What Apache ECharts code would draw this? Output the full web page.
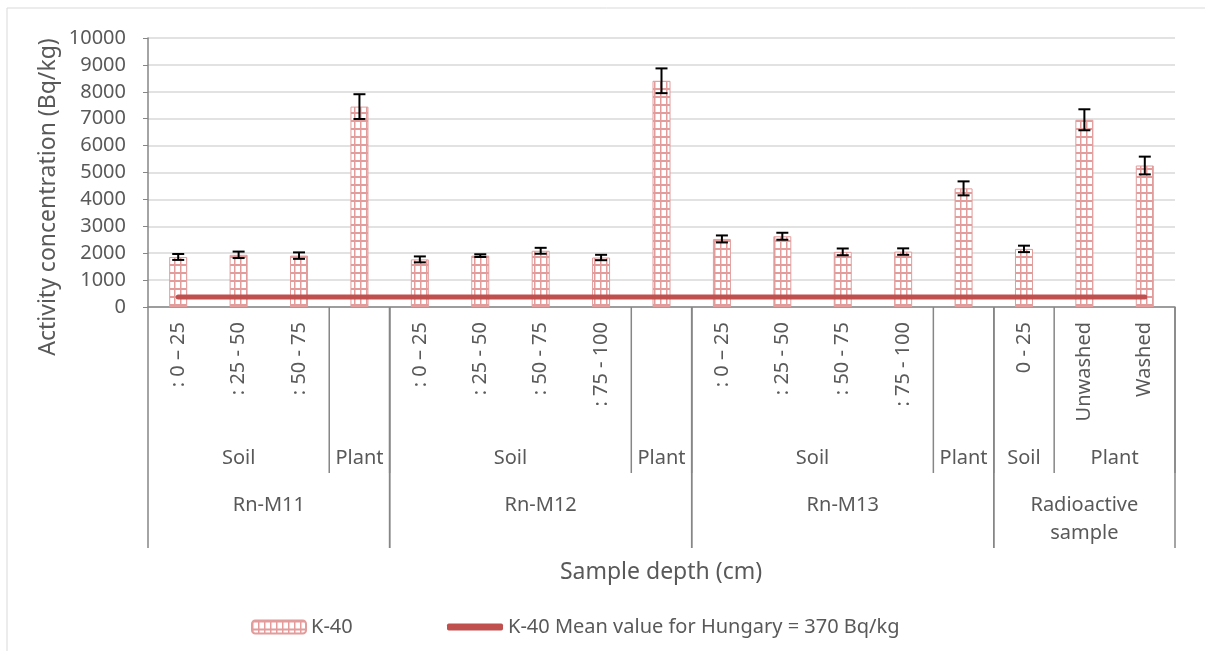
<!DOCTYPE html>
<html>
<head>
<meta charset="utf-8">
<script src="https://cdn.jsdelivr.net/npm/echarts@6/dist/echarts.min.js"></script>
<style>
  html, body { margin: 0; padding: 0; background: #fff; }
  #main { width: 1205px; height: 651px; }
</style>
</head>
<body>
<div id="main"></div>
<script>
// depth labels (first level of the category axis)
var depthLabels = [': 0 – 25', ': 25 - 50', ': 50 - 75', '',
  ': 0 – 25', ': 25 - 50', ': 50 - 75', ': 75 - 100', '',
  ': 0 – 25', ': 25 - 50', ': 50 - 75', ': 75 - 100', '',
  '0 - 25', 'Unwashed', 'Washed'];
// second level: [name, first index, last index]
var typeGroups = [['Soil', 0, 2], ['Plant', 3, 3], ['Soil', 4, 7], ['Plant', 8, 8],
  ['Soil', 9, 12], ['Plant', 13, 13], ['Soil', 14, 14], ['Plant', 15, 16]];
// third level
var siteGroups = [['Rn-M11', 0, 3], ['Rn-M12', 4, 8], ['Rn-M13', 9, 13], ['Radioactive\nsample', 14, 16]];

// K-40 activity (Bq/kg) and its error
var k40 = [1860, 1940, 1910, 7450, 1770, 1910, 2090, 1840, 8410, 2530, 2630, 2050, 2060, 4410, 2160, 6960, 5260];
var k40Err = [110, 120, 120, 460, 110, 50, 110, 100, 460, 130, 130, 125, 120, 260, 120, 390, 330];
// mean value for Hungary
var hungaryMean = [370, 370, 370, 370, 370, 370, 370, 370, 370, 370, 370, 370, 370, 370, 370, 370, 370];

var MEAN_NAME = 'K-40 Mean value for Hungary = 370 Bq/kg';
var FONT = 'Noto Sans';
var TXT = '#595959';
var AXIS = '#868686';
var RED = '#C0504D';

// grid pattern for the bars
function makePattern() {
  var c = document.createElement('canvas');
  c.width = 6;
  c.height = 8;
  var ctx = c.getContext('2d');
  ctx.fillStyle = '#ffffff';
  ctx.fillRect(0, 0, 6, 8);
  ctx.fillStyle = '#E29C9C';
  ctx.fillRect(0, 0, 6, 2);
  ctx.fillRect(0, 0, 1.5, 8);
  return c;
}
var pattern = { image: makePattern(), repeat: 'repeat' };

var cats = depthLabels.map(function (d, i) { return 'c' + i; });

var myChart = echarts.init(document.getElementById('main'));

var option = {
  animation: false,
  backgroundColor: '#fff',
  textStyle: { fontFamily: FONT },
  grid: { left: 148, right: 30, top: 38, bottom: 344, containLabel: false },
  legend: [{
    left: 246, top: 612,
    itemWidth: 54, itemHeight: 13,
    textStyle: { fontFamily: FONT, fontSize: 20, color: TXT },
    data: ['K-40']
  }, {
    left: 442, top: 612,
    itemWidth: 56, itemHeight: 7,
    textStyle: { fontFamily: FONT, fontSize: 20, color: TXT },
    data: [{ name: MEAN_NAME, icon: 'roundRect', itemStyle: { color: RED } }]
  }],
  xAxis: {
    type: 'category',
    data: cats,
    axisLine: { lineStyle: { color: AXIS, width: 1.5 } },
    axisTick: { show: false },
    axisLabel: {
      rotate: 90, margin: 15, fontSize: 20, color: TXT, fontFamily: FONT, interval: 0,
      formatter: function (v, i) { return depthLabels[i]; }
    }
  },
  yAxis: {
    type: 'value',
    min: 0, max: 10000, interval: 1000,
    axisLine: { show: true, lineStyle: { color: AXIS, width: 1.5 } },
    axisTick: { show: true, length: 5, lineStyle: { color: AXIS } },
    axisLabel: { fontSize: 20, color: TXT, fontFamily: FONT, margin: 22,
      formatter: function (v) { return String(v); } },
    splitLine: { lineStyle: { color: '#D9D9D9', width: 1.5 } }
  },
  graphic: [{
    type: 'rect', silent: true, z: -10,
    shape: { x: 7, y: 8, width: 1400, height: 800 },
    style: { fill: null, stroke: '#D9D9D9', lineWidth: 1 }
  }, {
    type: 'text', x: 48, y: 197, rotation: Math.PI / 2,
    style: { text: 'Activity concentration (Bq/kg)', fontFamily: FONT, fontSize: 23, fill: TXT, align: 'center', verticalAlign: 'middle' }
  }, {
    type: 'text', x: 661, y: 572,
    style: { text: 'Sample depth (cm)', fontFamily: FONT, fontSize: 23, fill: TXT, align: 'center', verticalAlign: 'middle' }
  }],
  series: [{
    name: 'K-40',
    type: 'bar',
    barWidth: 18,
    data: k40,
    itemStyle: { color: pattern, borderColor: '#E29C9C', borderWidth: 1 }
  }, {
    name: MEAN_NAME,
    type: 'line',
    data: hungaryMean,
    symbol: 'none',
    z: 3,
    lineStyle: { color: RED, width: 5, cap: 'round' },
    itemStyle: { color: RED }
  }, {
    // error bars
    type: 'custom',
    z: 4,
    silent: true,
    data: k40.map(function (v, i) { return [i, v, k40Err[i]]; }),
    encode: { x: 0, y: 1 },
    renderItem: function (params, api) {
      var i = api.value(0), v = api.value(1), e = api.value(2);
      var top = api.coord([i, v + e]);
      var bot = api.coord([i, v - e]);
      var hw = 6;
      var st = { stroke: '#000', lineWidth: 2 };
      return {
        type: 'group',
        children: [
          { type: 'line', shape: { x1: top[0], y1: top[1], x2: bot[0], y2: bot[1] }, style: st },
          { type: 'line', shape: { x1: top[0] - hw, y1: top[1], x2: top[0] + hw, y2: top[1] }, style: st },
          { type: 'line', shape: { x1: bot[0] - hw, y1: bot[1], x2: bot[0] + hw, y2: bot[1] }, style: st }
        ]
      };
    }
  }, {
    // second level labels (Soil / Plant)
    type: 'custom',
    silent: true,
    clip: false,
    data: typeGroups.map(function (g) { return [g[1], g[2], 0]; }),
    encode: { x: 0, y: 2 },
    renderItem: function (params, api) {
      var g = typeGroups[params.dataIndex];
      var w = api.size([1, 0])[0];
      var a = api.coord([api.value(0), 0]);
      var b = api.coord([api.value(1), 0]);
      var left = a[0] - w / 2, right = b[0] + w / 2, y0 = a[1];
      return {
        type: 'group',
        children: [
          { type: 'line', shape: { x1: right, y1: y0, x2: right, y2: y0 + 166 }, style: { stroke: AXIS, lineWidth: 1.5 } },
          { type: 'text', x: (left + right) / 2, y: y0 + 151,
            style: { text: g[0], fontFamily: FONT, fontSize: 20, fill: TXT, align: 'center', verticalAlign: 'middle' } }
        ]
      };
    }
  }, {
    // third level labels (sites)
    type: 'custom',
    silent: true,
    clip: false,
    data: siteGroups.map(function (g) { return [g[1], g[2], 0]; }),
    encode: { x: 0, y: 2 },
    renderItem: function (params, api) {
      var g = siteGroups[params.dataIndex];
      var w = api.size([1, 0])[0];
      var a = api.coord([api.value(0), 0]);
      var b = api.coord([api.value(1), 0]);
      var left = a[0] - w / 2, right = b[0] + w / 2, y0 = a[1];
      var st = { stroke: AXIS, lineWidth: 1.5 };
      return {
        type: 'group',
        children: [
          { type: 'line', shape: { x1: left, y1: y0, x2: left, y2: y0 + 241 }, style: st },
          { type: 'line', shape: { x1: right, y1: y0, x2: right, y2: y0 + 241 }, style: st },
          { type: 'text', x: (left + right) / 2, y: y0 + 184,
            style: { text: g[0], fontFamily: FONT, fontSize: 20, lineHeight: 28, fill: TXT, align: 'center', verticalAlign: 'top' } }
        ]
      };
    }
  }]
};

myChart.setOption(option);
</script>
</body>
</html>
